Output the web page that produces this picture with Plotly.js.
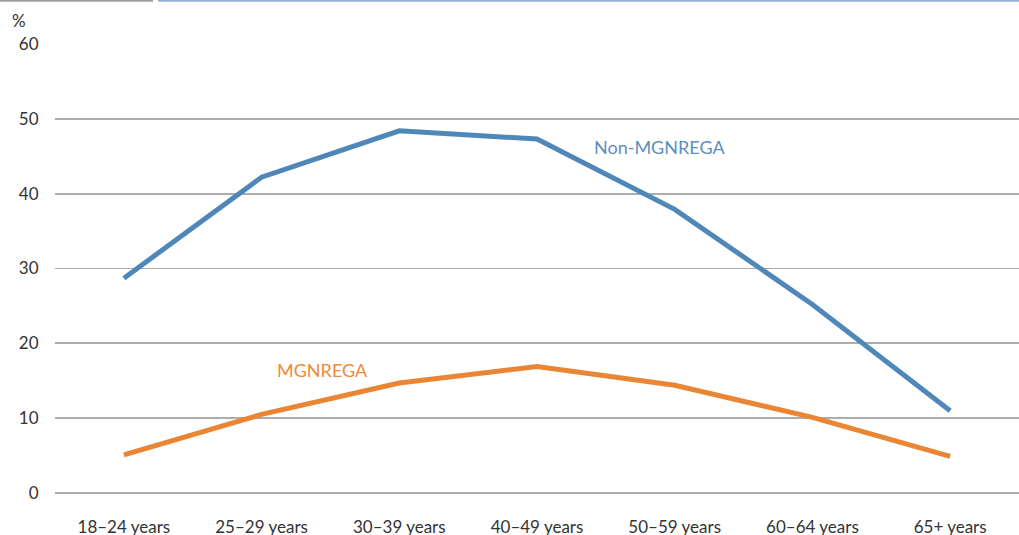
<!DOCTYPE html>
<html>
<head>
<meta charset="utf-8">
<script src="https://cdn.plot.ly/plotly-3.0.1.min.js"></script>
<style>
  html, body { margin: 0; padding: 0; background: #ffffff; }
  #chart { width: 1019px; height: 535px; }
</style>
</head>
<body>
<div id="chart"></div>
<script>
const categories = ["18–24 years", "25–29 years", "30–39 years", "40–49 years", "50–59 years", "60–64 years", "65+ years"];
const nonMgnrega = [28.7, 42.2, 48.4, 47.3, 37.9, 25.2, 11.0];
const mgnrega = [5.1, 10.5, 14.7, 16.9, 14.4, 10.1, 4.9];
const seriesNames = ["Non-MGNREGA", "MGNREGA"];
const yTicks = [0, 10, 20, 30, 40, 50, 60];
const yUnit = "%";

const blue = "#4f88b8";
const orange = "#ea8534";
const font = "Lato, 'Open Sans', sans-serif";

const traces = [
  {
    x: categories, y: nonMgnrega, type: "scatter", mode: "lines", name: seriesNames[0],
    line: { color: blue, width: 5 }, hoverinfo: "skip"
  },
  {
    x: categories, y: mgnrega, type: "scatter", mode: "lines", name: seriesNames[1],
    line: { color: orange, width: 5 }, hoverinfo: "skip"
  }
];

const layout = {
  width: 1019, height: 535,
  margin: { l: 55, r: 0, t: 44, b: 42, pad: 0 },
  paper_bgcolor: "#ffffff", plot_bgcolor: "#ffffff",
  showlegend: false,
  font: { family: font, size: 17, color: "#333333" },
  xaxis: {
    type: "category", range: [-0.5, 6.5], showgrid: false, zeroline: false,
    showline: false, ticks: "outside", ticklen: 19, tickcolor: "rgba(0,0,0,0)",
    tickfont: { family: font, size: 17, color: "#333333" }, fixedrange: true
  },
  yaxis: {
    range: [0, 60], tickvals: yTicks, ticktext: yTicks.map(String),
    showgrid: true, gridcolor: "#adadad", gridwidth: 1.8,
    zeroline: true, zerolinecolor: "#adadad", zerolinewidth: 1.8,
    showline: false, ticks: "outside", ticklen: 12, tickcolor: "rgba(0,0,0,0)",
    tickfont: { family: font, size: 17, color: "#333333" }, fixedrange: true
  },
  shapes: [
    { type: "line", xref: "paper", yref: "paper", x0: -0.06, x1: 0.1017, y0: 1.0965, y1: 1.0965,
      line: { color: "#a09fa0", width: 2 } },
    { type: "line", xref: "paper", yref: "paper", x0: 0.107, x1: 1.0, y0: 1.0965, y1: 1.0965,
      line: { color: "#8fb0d2", width: 2 } }
  ],
  annotations: [
    { text: yUnit, xref: "paper", yref: "paper", x: -0.037, y: 1.053, showarrow: false,
      xanchor: "center", yanchor: "middle", font: { family: font, size: 17, color: "#333333" } },
    { text: seriesNames[0], xref: "x", yref: "y", x: 3.89, y: 46.2, showarrow: false,
      xanchor: "center", yanchor: "middle", font: { family: font, size: 18, color: "#5b8fc0" } },
    { text: seriesNames[1], xref: "x", yref: "y", x: 1.44, y: 16.4, showarrow: false,
      xanchor: "center", yanchor: "middle", font: { family: font, size: 18, color: "#ee8a3a" } }
  ]
};

Plotly.newPlot("chart", traces, layout, { displayModeBar: false, staticPlot: true });
</script>
</body>
</html>
